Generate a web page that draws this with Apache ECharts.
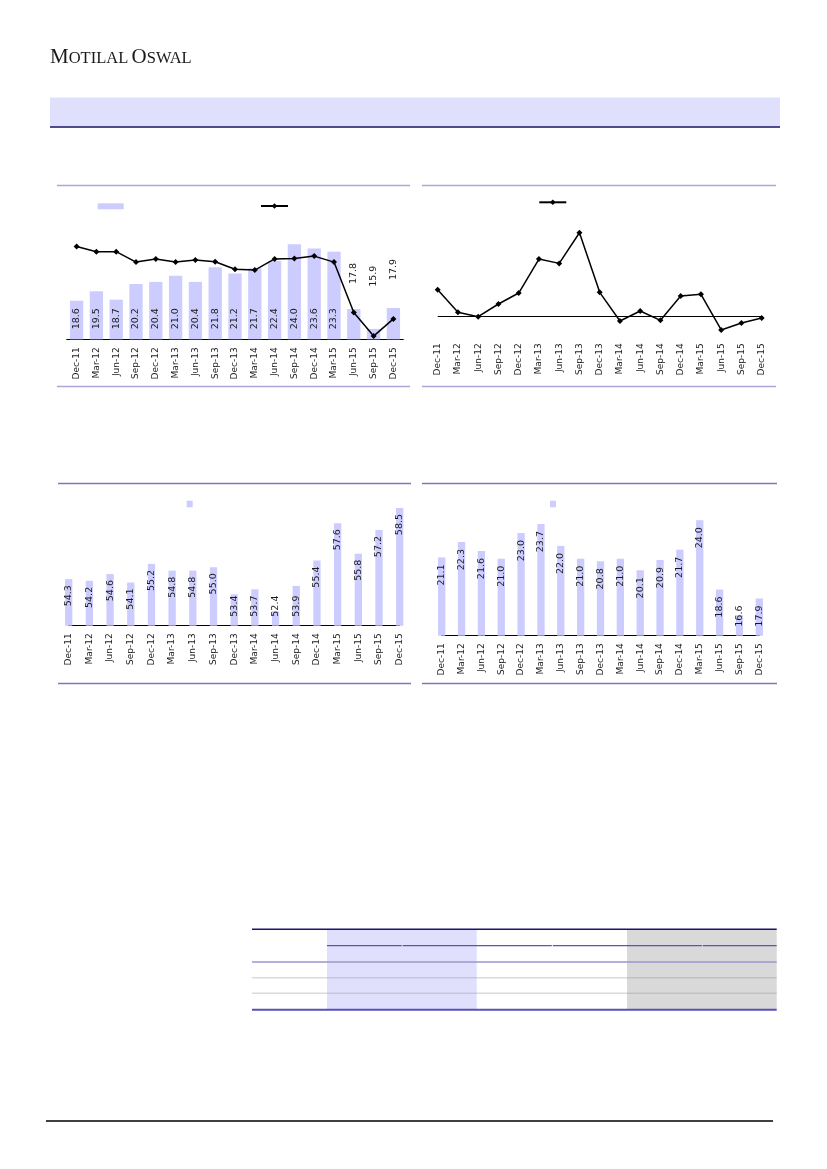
<!DOCTYPE html>
<html>
<head>
<meta charset="utf-8">
<script src="https://cdn.jsdelivr.net/npm/echarts@6/dist/echarts.min.js"></script>
<style>
html,body{margin:0;padding:0;background:#fff;}
#c{width:827px;height:1169px;}
</style>
</head>
<body>
<div id="c"></div>
<script>
// ---------- data ----------
const quarters = ['Dec-11','Mar-12','Jun-12','Sep-12','Dec-12','Mar-13','Jun-13','Sep-13','Dec-13','Mar-14','Jun-14','Sep-14','Dec-14','Mar-15','Jun-15','Sep-15','Dec-15'];
const chart1Bars = [18.6,19.5,18.7,20.2,20.4,21.0,20.4,21.8,21.2,21.7,22.4,24.0,23.6,23.3,17.8,15.9,17.9];
const chart1Line = [23.2,21.9,21.9,19.3,20.1,19.3,19.8,19.4,17.5,17.3,20.1,20.2,20.8,19.3,6.7,0.8,5.1];
const chart2Line = [7.9,1.1,-0.2,3.6,6.9,17.1,15.8,25.0,7.1,-1.5,1.5,-1.3,6.0,6.5,-4.2,-2.1,-0.6];
const chart3Bars = [54.3,54.2,54.6,54.1,55.2,54.8,54.8,55.0,53.4,53.7,52.4,53.9,55.4,57.6,55.8,57.2,58.5];
const chart4Bars = [21.1,22.3,21.6,21.0,23.0,23.7,22.0,21.0,20.8,21.0,20.1,20.9,21.7,24.0,18.6,16.6,17.9];

// ---------- styling helpers ----------
const FONT = 'DejaVu Sans';
const BAR = '#ccccff';
const fmt1 = p => Number(p.value).toFixed(1);
const c1OutsideDist = {14: 25, 15: 42, 16: 28};

const c1BarData = chart1Bars.map((v, i) =>
  c1OutsideDist[i] !== undefined ? {value: v, label: {position: 'top', distance: c1OutsideDist[i]}} : v);
const c3BarData = chart3Bars.map(v => v < 54.0 ? {value: v, label: {position: 'insideBottom', align: 'left', distance: 9}} : v);
const c4BarData = chart4Bars.map(v => v < 17.0 ? {value: v, label: {position: 'insideBottom', align: 'left', distance: 9}} : v);

const valueLabel = (pos, align, dist) => ({
  show: true, position: pos, rotate: 90, align: align, verticalAlign: 'middle',
  distance: dist, fontSize: 9.5, fontFamily: FONT, color: '#1a1a1a', formatter: fmt1
});

const xAxisCfg = (gi, gap, margin, showLine) => ({
  type: 'category', gridIndex: gi, data: quarters, boundaryGap: gap,
  axisLine: {show: showLine, onZero: false, lineStyle: {color: '#000', width: 1}},
  axisTick: {show: false},
  splitLine: {show: false},
  axisLabel: {rotate: 90, interval: 0, margin: margin, fontSize: 9, fontFamily: FONT, color: '#222'}
});
const yHidden = (gi, min, max, start) => {
  const o = {type: 'value', gridIndex: gi, min: min, max: max, show: false, splitLine: {show: false}};
  if (start !== undefined) o.startValue = start;
  return o;
};

const legendCfg = (name, left, top, w, h, icon) => {
  const o = {data: [name], left: left, top: top, itemWidth: w, itemHeight: h, padding: 0,
    selectedMode: false, formatter: () => '', textStyle: {fontSize: 1}};
  if (icon) o.icon = icon;
  return o;
};

// ---------- page graphics ----------
const line = (x1, y1, x2, y2, stroke, w) => ({type: 'line', silent: true,
  shape: {x1, y1, x2, y2}, style: {stroke: stroke, lineWidth: w}});
const rect = (x, y, w, h, fill) => ({type: 'rect', silent: true, shape: {x, y, width: w, height: h}, style: {fill: fill}});

const graphics = [
  {type: 'text', silent: true, style: {
    x: 50, y: 57, verticalAlign: 'middle',
    text: '{a|M}{b|OTILAL} {a|O}{b|SWAL}',
    rich: {
      a: {fontFamily: 'Liberation Serif', fontSize: 21, lineHeight: 21, verticalAlign: 'bottom', fill: '#1a1a1a'},
      b: {fontFamily: 'Liberation Serif', fontSize: 16.5, lineHeight: 16.5, verticalAlign: 'bottom', fill: '#1a1a1a'}
    }
  }},
  rect(50, 97.5, 730, 29, '#e0e0fc'),
  line(50, 127, 780, 127, '#16126a', 1.5),
  // chart frames
  line(57, 185.5, 410, 185.5, '#aaa6dc', 1.3),
  line(57, 386.5, 410, 386.5, '#aaa6dc', 1.3),
  line(422, 185.5, 776, 185.5, '#aaa6dc', 1.3),
  line(422, 386.5, 776, 386.5, '#aaa6dc', 1.3),
  line(58, 483.5, 411, 483.5, '#7d77c1', 1.3),
  line(58, 683.5, 411, 683.5, '#7d77c1', 1.3),
  line(422, 483.5, 777, 483.5, '#7d77c1', 1.3),
  line(422, 683.5, 777, 683.5, '#7d77c1', 1.3),
  // table
  rect(327, 930, 149.7, 79, '#e0e0fc'),
  rect(627, 930, 149.7, 79, '#d9d9d9'),
  line(252, 929.3, 776.7, 929.3, '#1c1470', 1.6),
  line(327, 945.7, 401.7, 945.7, '#5c54b4', 1.2),
  line(402.7, 945.7, 551.8, 945.7, '#5c54b4', 1.2),
  line(552.8, 945.7, 701.8, 945.7, '#5c54b4', 1.2),
  line(702.8, 945.7, 776.7, 945.7, '#5c54b4', 1.2),
  line(252, 962, 776.7, 962, '#9c96cf', 1.5),
  line(252, 977.7, 776.7, 977.7, 'rgba(150,150,150,0.35)', 1.5),
  line(252, 993.3, 776.7, 993.3, 'rgba(150,150,150,0.35)', 1.5),
  line(252, 1009.7, 776.7, 1009.7, '#5a50b8', 2),
  // footer
  line(46, 1121, 773, 1121, '#000', 1.3)
];

const option = {
  animation: false,
  backgroundColor: '#fff',
  graphic: graphics,
  legend: [
    legendCfg('bar1', 97.7, 203.3, 26, 6, 'rect'),
    legendCfg('line1', 260, 202.5, 27, 7),
    legendCfg('line2', 538.3, 198.8, 27, 7),
    legendCfg('bar3', 186.7, 500.7, 6, 6.6, 'rect'),
    legendCfg('bar4', 550, 500.7, 6, 6.6, 'rect')
  ],
  grid: [
    {left: 66.7, top: 219.3, width: 336.6, height: 120},
    {left: 437.7, top: 216.1, width: 324, height: 123.2},
    {left: 68.7, top: 490.7, width: 331, height: 135},
    {left: 441.7, top: 495.7, width: 317.6, height: 140}
  ],
  xAxis: [
    xAxisCfg(0, true, 8, true),
    xAxisCfg(1, false, 4, false),
    xAxisCfg(2, false, 7.6, true),
    xAxisCfg(3, false, 7.6, true)
  ],
  yAxis: [
    yHidden(0, 14.9, 26.4, 14.9),
    yHidden(0, 0, 30),
    yHidden(1, -7, 30),
    yHidden(2, 51.55, 59.52, 51.55),
    yHidden(3, 15, 25.91, 15)
  ],
  series: [
    {name: 'bar1', type: 'bar', xAxisIndex: 0, yAxisIndex: 0, data: c1BarData, barWidth: 13.3,
      itemStyle: {color: BAR}, label: valueLabel('insideBottom', 'left', 10), z: 2},
    {name: 'line1', type: 'line', xAxisIndex: 0, yAxisIndex: 1, data: chart1Line, clip: false,
      symbol: 'diamond', symbolSize: 6, showAllSymbol: true,
      lineStyle: {color: '#000', width: 1.5}, itemStyle: {color: '#000'}, z: 3},
    {name: 'line2', type: 'line', xAxisIndex: 1, yAxisIndex: 2, data: chart2Line, clip: false,
      symbol: 'diamond', symbolSize: 6, showAllSymbol: true,
      lineStyle: {color: '#000', width: 1.5}, itemStyle: {color: '#000'}, z: 3,
      markLine: {silent: true, symbol: 'none', label: {show: false},
        lineStyle: {color: '#000', width: 1, type: 'solid'}, data: [{yAxis: 0}]}},
    {name: 'bar3', type: 'bar', xAxisIndex: 2, yAxisIndex: 3, data: c3BarData, barWidth: 7.3, clip: false,
      itemStyle: {color: BAR}, label: valueLabel('insideTop', 'right', 6)},
    {name: 'bar4', type: 'bar', xAxisIndex: 3, yAxisIndex: 4, data: c4BarData, barWidth: 7.3, clip: false,
      itemStyle: {color: BAR}, label: valueLabel('insideTop', 'right', 7)}
  ]
};

const chart = echarts.init(document.getElementById('c'), null, {renderer: 'canvas'});
chart.setOption(option);
</script>
</body>
</html>
